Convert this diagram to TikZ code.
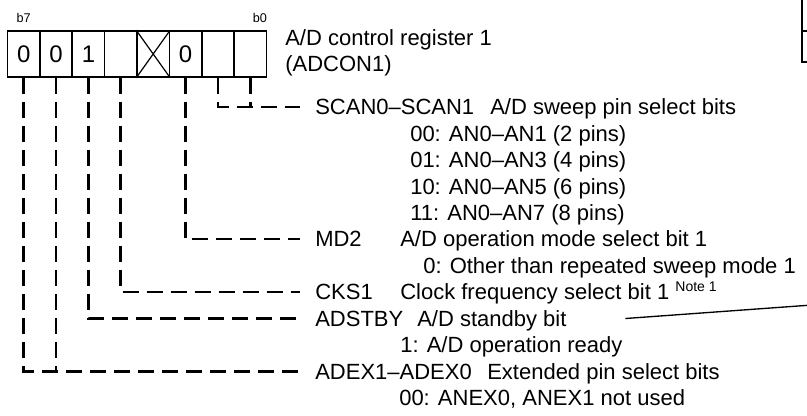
\documentclass[tikz,border=0pt]{standalone}
\usepackage{fontspec}
\setmainfont{Liberation Sans}
\usepackage{tikz}

\begin{document}
\begin{tikzpicture}[x=0.75pt, y=-0.75pt,
    cell/.style={draw, line width=1.2pt, minimum width=24.28pt, minimum height=34.5pt,
      inner sep=0pt, font=\fontsize{18}{21}\selectfont},
    lbl/.style={anchor=west, inner sep=0pt, text height=11.8pt, text depth=0pt,
      font=\fontsize{16.5}{19.8}\selectfont},
    bitno/.style={inner sep=0pt, font=\fontsize{9.5}{11}\selectfont},
    field/.style={line width=2pt, dash pattern=on 12pt off 6pt}]
        \useasboundingbox (0,0) rectangle (807,415);
        \clip (0,0) rectangle (807,415);
        % Register cells, b7 on the left
        \foreach \b/\v in {7/0,6/0,5/1,4/{},3/{},2/0,1/{},0/{}}{
          \node[cell] (c\b) at ({7.5+32.375*(7.5-\b)}, 54) {\v};
        }
        \draw[line width=0.9pt] (c3.north west) -- (c3.south east)
          (c3.south west) -- (c3.north east);
        \node[bitno, anchor=base] (b7lbl) at ([yshift=6pt]c7.north) {b7};
        \node[bitno, anchor=base east] (b0lbl) at ([yshift=6pt]c0.north east) {b0};
        % Register name
        \node[lbl] (title) at (285,38) {A/D control register 1};
        \node[lbl] (titleb) at (285,64) {(ADCON1)};
        % Next register, cut off at the edge
        \draw[line width=1.2pt] (802,-2) -- (802,62) -- (812,62) (802,31) -- (812,31);
        % Bit fields
        \node[lbl] (scan) at (315,107) {SCAN0–SCAN1};
        \node[lbl] (scand) at (490,107) {A/D sweep pin select bits};
        \node[lbl] (scan00) at (410,133.5) {00: AN0–AN1 (2 pins)};
        \node[lbl] (scan01) at (410,160) {01: AN0–AN3 (4 pins)};
        \node[lbl] (scan10) at (410,186.5) {10: AN0–AN5 (6 pins)};
        \node[lbl] (scan11) at (410,213) {11: AN0–AN7 (8 pins)};
        \node[lbl] (md2) at (315,239) {MD2};
        \node[lbl] (md2d) at (400,239) {A/D operation mode select bit 1};
        \node[lbl] (md2v) at (423,265.5) {0: Other than repeated sweep mode 1};
        \node[lbl] (cks) at (315,292) {CKS1};
        \node[lbl] (cksd) at (400,292) {Clock frequency select bit 1
          \raisebox{6.5pt}{\fontsize{10.5}{12}\selectfont Note 1}};
        \node[lbl] (adstby) at (315,318.5) {ADSTBY};
        \node[lbl] (adstbyd) at (417,318.5) {A/D standby bit};
        \node[lbl] (adstbyv) at (400,345) {1: A/D operation ready};
        \node[lbl] (adex) at (315,371.5) {ADEX1–ADEX0};
        \node[lbl] (adexd) at (487,371.5) {Extended pin select bits};
        \node[lbl] (adexv) at (399,398) {00: ANEX0, ANEX1 not used};
        % Dashed leaders from the bits
        \draw[field] (c1.south) |- ([xshift=-11pt]scan.west);
        \draw[field] (c0.south) -- (c0.south |- scan.west);
        \draw[field] (c2.south) |- ([xshift=-11pt]md2.west);
        \draw[field] (c4.south) |- ([xshift=-11pt]cks.west);
        \draw[field] (c5.south) |- ([xshift=-11pt]adstby.west);
        \draw[field] (c7.south) |- ([xshift=-11pt]adex.west);
        \draw[field] (c6.south) -- (c6.south |- adex.west);
        % Note line
        \coordinate (noteend) at (812,305);
        \draw[line width=1pt] ([xshift=44pt]adstbyd.east) -- (noteend);
      \end{tikzpicture}
\end{document}
